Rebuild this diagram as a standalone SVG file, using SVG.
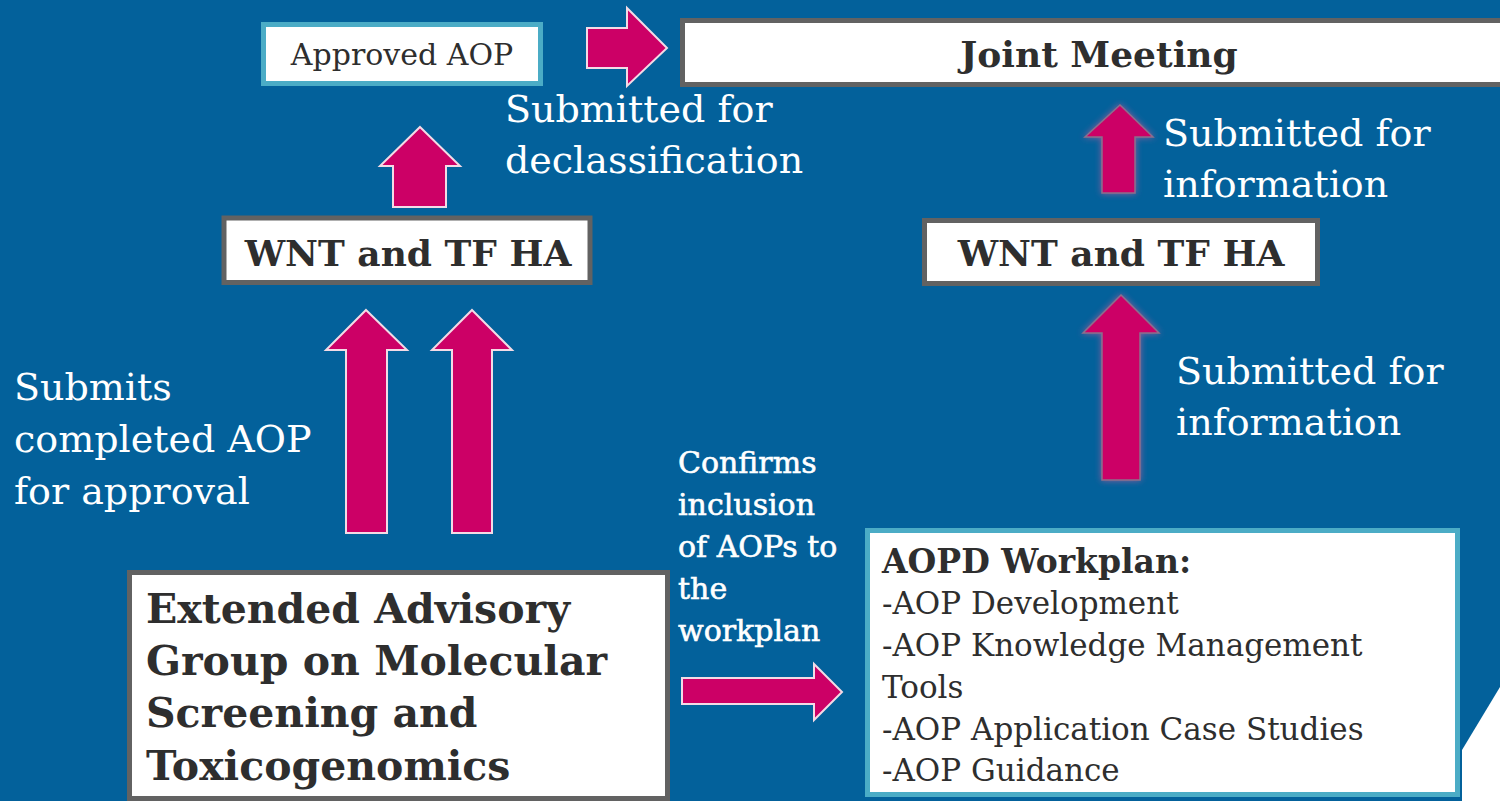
<svg xmlns="http://www.w3.org/2000/svg" width="1500" height="801" viewBox="0 0 1500 801">
<defs>
<style>
.bg{fill:#03619B}
.gbox{fill:#fff;stroke:#626262;stroke-width:5}
.tbox{fill:#fff;stroke:#4BACC6;stroke-width:5}
.dark{fill:#2e2e2e;font-family:"DejaVu Serif","Liberation Serif",serif}
.b{font-weight:bold}
.wt{fill:#fff;font-family:"DejaVu Serif","Liberation Serif",serif}
.arrL{fill:#CC0066;stroke:#f3dbe6;stroke-width:2}
.arrR{fill:#CC0066;stroke:#8c6f8c;stroke-width:1.5;filter:url(#glow)}
</style>
<filter id="glow" x="-30%" y="-30%" width="160%" height="160%">
<feGaussianBlur in="SourceAlpha" stdDeviation="3" result="b"/>
<feFlood flood-color="#c65a9a" flood-opacity="0.7"/>
<feComposite in2="b" operator="in" result="g"/>
<feMerge><feMergeNode in="g"/><feMergeNode in="SourceGraphic"/></feMerge>
</filter>
</defs>
<rect class="bg" x="0" y="0" width="1500" height="801"/>
<polygon points="1500,687 1462,750 1462,801 1500,801" fill="#fff"/>

<g id="connectors">
<polygon class="arrL" points="587,28 627,28 627,8 667,48 627,86 627,68 587,68"/>
<polygon class="arrL" points="420,127 460,166 446,166 446,207 393,207 393,166 380,166"/>
<polygon class="arrL" points="366,310 407,350 387,350 387,533 346,533 346,350 326,350"/>
<polygon class="arrL" points="472,310 512,350 492,350 492,533 452,533 452,350 432,350"/>
<polygon class="arrL" points="682,678 814,678 814,664 842,692 814,720 814,704 682,704"/>
<polygon class="arrR" points="1120,105 1153,137 1135,137 1135,193 1102,193 1102,137 1085,137"/>
<polygon class="arrR" points="1121,295 1159,333 1140,333 1140,480 1102,480 1102,333 1083,333"/>
</g>

<g id="labels">
<text class="wt" font-size="38"><tspan x="505" y="122">Submitted for</tspan><tspan x="505" y="173">declassification</tspan></text>
<text class="wt" font-size="38"><tspan x="1163" y="146">Submitted for</tspan><tspan x="1163" y="197">information</tspan></text>
<text class="wt" font-size="38"><tspan x="1176" y="384">Submitted for</tspan><tspan x="1176" y="435">information</tspan></text>
<text class="wt" font-size="38"><tspan x="14" y="400">Submits</tspan><tspan x="14" y="452">completed AOP</tspan><tspan x="14" y="504">for approval</tspan></text>
<text class="wt" font-size="30" stroke="#fff" stroke-width="0.6"><tspan x="678" y="473">Confirms</tspan><tspan x="678" y="515">inclusion</tspan><tspan x="678" y="557">of AOPs to</tspan><tspan x="678" y="599">the</tspan><tspan x="678" y="641">workplan</tspan></text>
</g>

<g id="approved">
<rect class="tbox" x="263.5" y="24.5" width="277" height="59"/>
<text class="dark" font-size="30" x="402" y="65" text-anchor="middle">Approved AOP</text>
</g>
<g id="joint">
<rect class="gbox" x="682.5" y="20.5" width="830" height="64"/>
<text class="dark b" font-size="36" x="1099" y="67" text-anchor="middle">Joint Meeting</text>
</g>
<g id="wnt-left">
<rect class="gbox" x="224" y="218" width="366" height="64.5"/>
<text class="dark b" font-size="36" x="408" y="266" text-anchor="middle">WNT and TF HA</text>
</g>
<g id="wnt-right">
<rect class="gbox" x="924.5" y="220.5" width="393" height="63"/>
<text class="dark b" font-size="36" x="1121" y="266" text-anchor="middle">WNT and TF HA</text>
</g>
<g id="egmst">
<rect class="gbox" x="129.5" y="572.5" width="538" height="226"/>
<text class="dark b" font-size="41"><tspan x="146" y="623">Extended Advisory</tspan><tspan x="146" y="675">Group on Molecular</tspan><tspan x="146" y="727">Screening and</tspan><tspan x="146" y="780">Toxicogenomics</tspan></text>
</g>
<g id="workplan">
<rect class="tbox" x="867.5" y="530.5" width="590" height="264"/>
<text class="dark" font-size="31"><tspan x="882" y="573" font-weight="bold" font-size="33">AOPD Workplan:</tspan><tspan x="882" y="614">-AOP Development</tspan><tspan x="882" y="656">-AOP Knowledge Management</tspan><tspan x="882" y="698">Tools</tspan><tspan x="882" y="740">-AOP Application Case Studies</tspan><tspan x="882" y="781">-AOP Guidance</tspan></text>
</g>
</svg>
